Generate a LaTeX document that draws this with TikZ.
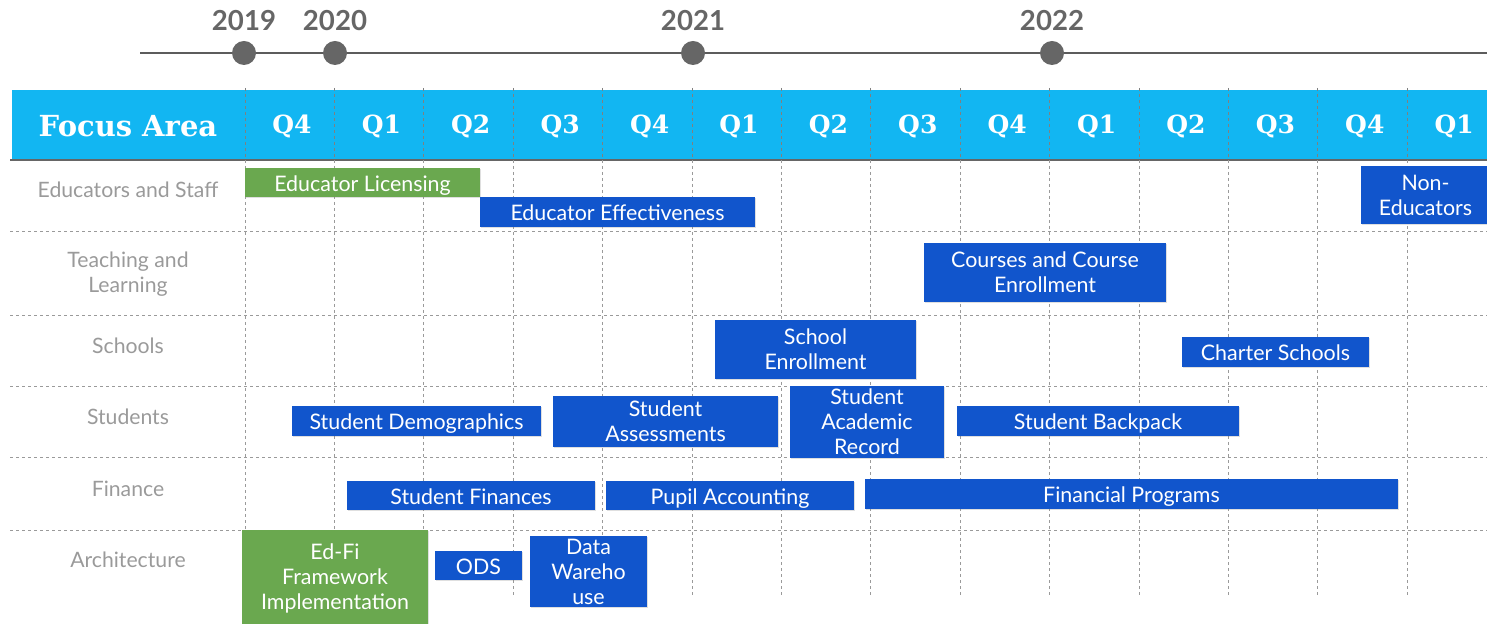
\documentclass[tikz,border=0pt]{standalone}
\usepackage{fontspec}
\setmainfont{Lato}
\newfontfamily\slabfont{DejaVu Serif}
\definecolor{hdr}{HTML}{12B6F2}
\definecolor{bblue}{HTML}{1155CC}
\definecolor{bgreen}{HTML}{6AA84F}
\definecolor{lbl}{HTML}{9A9A9A}
\definecolor{yr}{HTML}{666666}
\definecolor{gridc}{HTML}{9A9A9A}
\newcommand\tbar[7]{%
  \pgfmathsetmacro\bw{(#5-#3)*0.5}\pgfmathsetmacro\bh{(#6-#4)*0.5}%
  \node[#1, minimum width=\bw pt, minimum height=\bh pt] (#2) at ({(#3+#5)/2},{(#4+#6)/2}) {#7};}
\tikzset{
  barbase/.style={inner sep=0pt, outer sep=0pt, text=white,
    font=\fontsize{10.7}{12.5}\selectfont,
    drop shadow={shadow xshift=0.6pt, shadow yshift=-0.6pt, opacity=0.25}},
  oneline/.style={text height=9pt, text depth=0.3pt},
  multi/.style={align=center},
  bluebar/.style={barbase, fill=bblue},
  greenbar/.style={barbase, fill=bgreen},
  rowlabel/.style={text=lbl, align=center, font=\fontsize{10.6}{12.5}\selectfont},
  qlabel/.style={text=white, font=\slabfont\bfseries\fontsize{12.5}{14}\selectfont},
  yearlabel/.style={text=yr, font=\bfseries\fontsize{13.8}{15}\selectfont},
  gridline/.style={gridc, line width=0.5pt, dash pattern=on 1.5pt off 1.5pt},
  ydot/.style={circle, fill=yr, inner sep=0pt, minimum size=12pt}
}
\usetikzlibrary{shadows}
\begin{document}
\begin{tikzpicture}[x=0.5pt,y=-0.5pt]
\useasboundingbox (0,0) rectangle (1487,624);
% timeline
\coordinate (tlstart) at (140,53);
\coordinate (tlend) at (1487,53);
\draw[yr!90!black, line width=0.7pt] (tlstart) -- (tlend);
\foreach \x/\y/\n in {244/2019/a,335/2020/b,693/2021/c,1052/2022/d}{
  \node[ydot] (dot\n) at (\x,53) {};
  \node[yearlabel] (year\n) at (\x,21) {\y};
}
% header
\fill[hdr] (12,90) rectangle (1487,160);
\draw[yr, line width=0.9pt] (10,160) -- (1487,160);
\node[text=white, font=\slabfont\bfseries\fontsize{14.5}{16}\selectfont] (focus) at (128,126) {Focus Area};
% grid
\foreach \y in {232,316,387,458,530}{
  \draw[gridline] (10,\y) -- (1487,\y);
}
\foreach \k in {0,...,13}{
  \pgfmathsetmacro\xx{245+89.4*\k}
  \draw[gridline, gray] (\xx,88) -- (\xx,160);
  \draw[gridline] (\xx,160) -- (\xx,597);
}
\foreach \k/\q in {0/Q4,1/Q1,2/Q2,3/Q3,4/Q4,5/Q1,6/Q2,7/Q3,8/Q4,9/Q1,10/Q2,11/Q3,12/Q4,13/Q1}{
  \pgfmathsetmacro\xx{245+89.4*\k+47}
  \node[qlabel] (q\k) at (\xx,126) {\q};
}
% row labels
\node[rowlabel] (r1) at (128,190) {Educators and Staff};
\node[rowlabel] (r2) at (128,274) {Teaching and\\Learning};
\node[rowlabel] (r3) at (128,346) {Schools};
\node[rowlabel] (r4) at (128,417) {Students};
\node[rowlabel] (r5) at (128,489) {Finance};
\node[rowlabel] (r6) at (128,560) {Architecture};
% bars
\tbar{greenbar,oneline}{edlic}{245}{168}{480}{197}{Educator Licensing}
\tbar{bluebar,oneline}{edeff}{480}{197}{755}{227}{Educator Effectiveness}
\tbar{bluebar,multi}{noned}{1361}{166}{1490}{224}{Non-\\Educators}
\tbar{bluebar,multi}{courses}{924}{243}{1166}{302}{Courses and Course\\Enrollment}
\tbar{bluebar,multi}{schenr}{715}{320}{916}{379}{School\\Enrollment}
\tbar{bluebar,oneline}{charter}{1182}{337}{1369}{367}{Charter Schools}
\tbar{bluebar,oneline}{stdemo}{292}{406}{541}{436}{Student Demographics}
\tbar{bluebar,multi}{stass}{553}{396}{778}{447}{Student\\Assessments}
\tbar{bluebar,multi}{stacad}{790}{386}{944}{458}{Student\\Academic\\Record}
\tbar{bluebar,oneline}{stback}{957}{406}{1239}{436}{Student Backpack}
\tbar{bluebar,oneline}{stfin}{347}{481}{595}{510}{Student Finances}
\tbar{bluebar,oneline}{pupil}{606}{481}{854}{510}{Pupil Accounting}
\tbar{bluebar,oneline}{finprog}{865}{479}{1398}{509}{Financial Programs}
\tbar{greenbar,multi}{edfi}{242}{530}{428}{626}{Ed-Fi\\Framework\\Implementation}
\tbar{bluebar,oneline}{ods}{435}{551}{522}{580}{ODS}
\tbar{bluebar,multi}{dw}{530}{536}{647}{607}{Data\\Wareho\\use}
\end{tikzpicture}
\end{document}
